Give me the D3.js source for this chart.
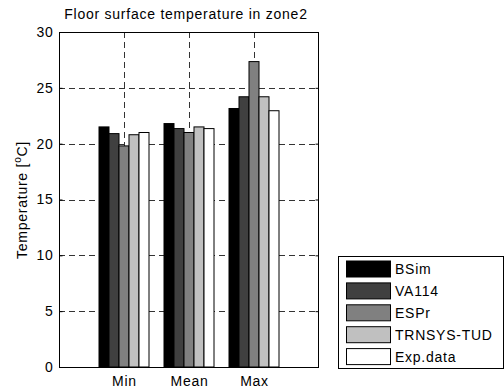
<!DOCTYPE html>
<html><head><meta charset="utf-8">
<script src="https://cdn.jsdelivr.net/npm/d3@7"></script>
<style>
body{margin:0;background:#fff;}
text{font-family:"Liberation Sans",Arial,sans-serif;fill:#000;}
</style></head>
<body>
<svg id="chart" width="504" height="392"></svg>
<script>
const categories = ["Min", "Mean", "Max"];
const seriesNames = ["BSim", "VA114", "ESPr", "TRNSYS-TUD", "Exp.data"];
const seriesColors = ["#000000", "#404040", "#808080", "#c0c0c0", "#ffffff"];
const BSim = [21.5, 21.8, 23.15];
const VA114 = [20.9, 21.35, 24.2];
const ESPr = [19.8, 21.0, 27.35];
const TRNSYS = [20.8, 21.5, 24.2];
const ExpData = [21.0, 21.35, 22.95];
const yTicks = [0, 5, 10, 15, 20, 25, 30];
const titleText = "Floor surface temperature in zone2";

const series = [BSim, VA114, ESPr, TRNSYS, ExpData];
const svg = d3.select("#chart");
const L = 59, R = 319, T = 32, B = 367;
const x = d3.scaleLinear().domain([0, 4]).range([L, R]);
const y = d3.scaleLinear().domain([0, 30]).range([B, T]);
const barW = 1 / 6.5;
const ls = "0.75px";

// grid
const grid = svg.append("g").attr("stroke", "#333").attr("stroke-dasharray", "6,4").attr("stroke-width", 1);
yTicks.filter(t => t > 0 && t < 30).forEach(t => {
  grid.append("line").attr("x1", L).attr("x2", R).attr("y1", Math.round(y(t)) + 0.5).attr("y2", Math.round(y(t)) + 0.5);
});
categories.forEach((c, i) => {
  const xx = Math.round(x(i + 1)) + 0.5;
  grid.append("line").attr("x1", xx).attr("x2", xx).attr("y1", T).attr("y2", B);
});

// bars
series.forEach((vals, s) => {
  svg.append("g").selectAll("rect").data(vals).join("rect")
    .attr("x", (v, i) => x(i + 1 + (s - 2.5) * barW))
    .attr("width", x(barW) - x(0))
    .attr("y", v => y(v))
    .attr("height", v => y(0) - y(v))
    .attr("fill", seriesColors[s])
    .attr("stroke", "#000").attr("stroke-width", 1);
});

// axes box
svg.append("rect").attr("x", L + 0.5).attr("y", T + 0.5).attr("width", R - L - 1).attr("height", B - T)
  .attr("fill", "none").attr("stroke", "#000").attr("stroke-width", 1);
const yAxisL = d3.axisLeft(y).tickValues(yTicks).tickSize(-3).tickPadding(6).tickFormat(d3.format("d"));
const gy = svg.append("g").attr("transform", `translate(${L + 0.5},0)`).call(yAxisL);
gy.select(".domain").remove();
gy.selectAll("text").attr("font-size", 14).style("letter-spacing", ls).attr("font-family", "Liberation Sans, Arial, sans-serif");
const yAxisR = d3.axisRight(y).tickValues(yTicks).tickSize(-3).tickFormat("");
const gyr = svg.append("g").attr("transform", `translate(${R - 0.5},0)`).call(yAxisR);
gyr.select(".domain").remove();

const xAxis = d3.axisBottom(x).tickValues([1, 2, 3]).tickSize(0).tickPadding(9).tickFormat((d) => categories[d - 1]);
const gx = svg.append("g").attr("transform", `translate(0,${B})`).call(xAxis);
gx.select(".domain").remove();
gx.selectAll("text").attr("font-size", 14).style("letter-spacing", ls).attr("font-family", "Liberation Sans, Arial, sans-serif");

// title
svg.append("text").attr("x", 186).attr("y", 19).attr("text-anchor", "middle")
  .attr("font-size", 14).style("letter-spacing", ls).text(titleText);

// y label
const yl = svg.append("text").attr("transform", "translate(27,200) rotate(-90)").attr("text-anchor", "middle")
  .attr("font-size", 14).style("letter-spacing", ls);
yl.append("tspan").text("Temperature [");
yl.append("tspan").attr("font-size", 10).attr("dy", -6).text("o");
yl.append("tspan").attr("dy", 6).text("C]");

// legend
const lg = svg.append("g");
lg.append("rect").attr("x", 338.5).attr("y", 256.5).attr("width", 165).attr("height", 112)
  .attr("fill", "#fff").attr("stroke", "#000");
seriesNames.forEach((n, i) => {
  const cy = 269 + i * 21.9;
  lg.append("rect").attr("x", 346.5).attr("y", cy - 8).attr("width", 44).attr("height", 16)
    .attr("fill", seriesColors[i]).attr("stroke", "#000");
  lg.append("text").attr("x", 395).attr("y", cy + 5).attr("font-size", 14).style("letter-spacing", ls).text(n);
});
</script>
</body></html>
